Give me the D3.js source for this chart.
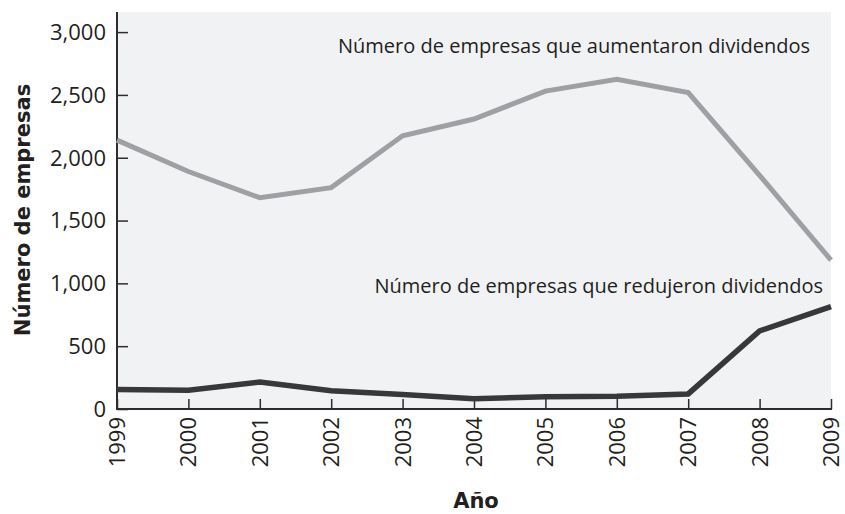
<!DOCTYPE html>
<html>
<head>
<meta charset="utf-8">
<script src="https://cdn.jsdelivr.net/npm/d3@7/dist/d3.min.js"></script>
<style>
  html, body { margin: 0; padding: 0; background: #ffffff; }
  svg { display: block; }
  text { font-family: "Open Sans", Lato, sans-serif; fill: #231f20; }
  text.title { font-family: "DejaVu Sans", sans-serif; font-weight: bold; }
</style>
</head>
<body>
<svg id="chart" width="845" height="514"></svg>
<script>
// Años del eje horizontal
const years = [1999, 2000, 2001, 2002, 2003, 2004, 2005, 2006, 2007, 2008, 2009];
// Número de empresas que aumentaron dividendos
const increased = [2140, 1890, 1682, 1762, 2175, 2308, 2530, 2625, 2518, 1860, 1185];
// Número de empresas que redujeron dividendos
const reduced = [155, 150, 215, 145, 115, 82, 97, 102, 120, 622, 815];
// Marcas del eje vertical
const yTicks = [0, 500, 1000, 1500, 2000, 2500, 3000];

const labelUp = "Número de empresas que aumentaron dividendos";
const labelDown = "Número de empresas que redujeron dividendos";
const yTitle = "Número de empresas";
const xTitle = "Año";

const svg = d3.select("#chart");
const plotLeft = 117, plotRight = 831, plotTop = 12, plotBottom = 409;

const x = d3.scaleLinear().domain([1999, 2009]).range([plotLeft, plotRight]);
const y = d3.scaleLinear().domain([0, 3160]).range([plotBottom, plotTop]);

// fondo del área de trazado
svg.append("rect")
  .attr("x", plotLeft).attr("y", plotTop)
  .attr("width", plotRight - plotLeft).attr("height", plotBottom - plotTop)
  .attr("fill", "#f1f2f4");

const axisColor = "#2e2c2d";

// eje vertical
const yAxis = svg.append("g")
  .attr("transform", `translate(${plotLeft},0)`)
  .call(d3.axisRight(y).tickValues(yTicks).tickSize(11).tickFormat(() => ""));
yAxis.select(".domain").remove();
yAxis.selectAll(".tick line").attr("stroke", axisColor).attr("stroke-width", 1.5);

svg.selectAll(".ylab").data(yTicks).join("text")
  .attr("class", "ylab")
  .attr("x", plotLeft - 11)
  .attr("y", d => y(d))
  .attr("dy", "0.36em")
  .attr("text-anchor", "end")
  .attr("font-size", 22)
  .text(d => d3.format(",")(d));

// eje horizontal
const xAxis = svg.append("g")
  .attr("transform", `translate(0,${plotBottom})`)
  .call(d3.axisTop(x).tickValues(years).tickSize(10).tickFormat(() => ""));
xAxis.select(".domain").remove();
xAxis.selectAll(".tick line").attr("stroke", axisColor).attr("stroke-width", 1.5);

svg.selectAll(".xlab").data(years).join("text")
  .attr("class", "xlab")
  .attr("transform", d => `translate(${x(d)},${plotBottom + 8}) rotate(-90)`)
  .attr("dy", "0.36em")
  .attr("text-anchor", "end")
  .attr("font-size", 22)
  .text(d => d);

// líneas de los ejes
svg.append("line")
  .attr("x1", plotLeft).attr("x2", plotLeft).attr("y1", plotTop).attr("y2", plotBottom + 1)
  .attr("stroke", axisColor).attr("stroke-width", 2);
svg.append("line")
  .attr("x1", plotLeft - 1).attr("x2", plotRight + 1).attr("y1", plotBottom).attr("y2", plotBottom)
  .attr("stroke", axisColor).attr("stroke-width", 2);

// series
const line = d3.line().x((d, i) => x(years[i])).y(d => y(d));
svg.append("path").datum(increased)
  .attr("d", line).attr("fill", "none")
  .attr("stroke", "#9fa0a3").attr("stroke-width", 5);
svg.append("path").datum(reduced)
  .attr("d", line).attr("fill", "none")
  .attr("stroke", "#38383a").attr("stroke-width", 5.5);

// etiquetas de las series
svg.append("text")
  .attr("x", 810).attr("y", 53)
  .attr("text-anchor", "end")
  .attr("font-size", 20)
  .text(labelUp);
svg.append("text")
  .attr("x", 823).attr("y", 293)
  .attr("text-anchor", "end")
  .attr("font-size", 20)
  .text(labelDown);

// títulos de los ejes
svg.append("text")
  .attr("class", "title")
  .attr("transform", "translate(30,210) rotate(-90)")
  .attr("text-anchor", "middle")
  .attr("font-size", 21)
  .text(yTitle);
svg.append("text")
  .attr("class", "title")
  .attr("x", 476).attr("y", 508)
  .attr("text-anchor", "middle")
  .attr("font-size", 21)
  .text(xTitle);
</script>
</body>
</html>
